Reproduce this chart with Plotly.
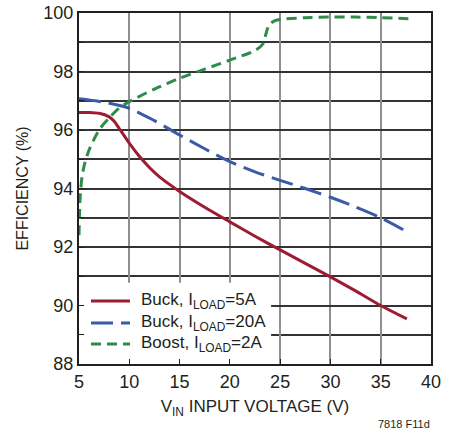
import plotly.graph_objects as go

# Data
buck5_v = [5.0, 6.0, 7.0, 8.0, 8.5, 9.0, 9.5, 10.0, 11.0, 12.0, 13.0, 14.0, 15.0, 17.5, 20.0, 22.5, 25.0, 27.5, 30.0, 32.5, 35.0, 37.6]
buck5_e = [96.6, 96.6, 96.57, 96.45, 96.3, 96.05, 95.8, 95.55, 95.1, 94.72, 94.4, 94.14, 93.9, 93.36, 92.86, 92.37, 91.9, 91.44, 90.98, 90.5, 90.0, 89.54]

buck20_v = [5.0, 7.5, 10.0, 12.5, 15.0, 17.5, 20.0, 22.5, 25.0, 27.5, 30.0, 32.5, 35.0, 37.6]
buck20_e = [97.07, 96.95, 96.74, 96.32, 95.83, 95.36, 94.92, 94.57, 94.28, 94.0, 93.7, 93.37, 93.0, 92.52]

boost_v = [5.0, 5.1, 5.3, 5.6, 6.1, 7.1, 8.1, 9.0, 10.0, 12.5, 15.0, 17.5, 20.0, 22.5, 23.3, 23.6, 23.9, 24.5, 25.0, 27.5, 30.0, 32.5, 35.0, 38.0]
boost_e = [92.4, 93.6, 94.4, 94.9, 95.4, 96.05, 96.45, 96.75, 96.97, 97.4, 97.77, 98.08, 98.39, 98.72, 98.95, 99.3, 99.6, 99.74, 99.78, 99.84, 99.86, 99.86, 99.84, 99.8]

series_names = ["Buck, I<sub>LOAD</sub>=5A", "Buck, I<sub>LOAD</sub>=20A", "Boost, I<sub>LOAD</sub>=2A"]

x_ticks = [5, 10, 15, 20, 25, 30, 35, 40]
y_ticks = [88, 90, 92, 94, 96, 98, 100]

FONT = "Liberation Sans, Arial, sans-serif"
TXT = "#231F20"
COLORS = ["#9E1B32", "#3B5BA9", "#2E8B4A"]
DASHES = ["solid", "22px,8px", "10px,6px"]

fig = go.Figure()
for vx, ey, name, col, dash in zip([buck5_v, buck20_v, boost_v], [buck5_e, buck20_e, boost_e],
                                   series_names, COLORS, DASHES):
    fig.add_trace(go.Scatter(x=vx, y=ey, mode="lines", name=name, showlegend=False, hoverinfo="skip",
                             line=dict(color=col, width=3, dash=dash, shape="spline", smoothing=0.8)))

# white patch behind legend (above gridlines, below traces/ticks)
fig.add_shape(type="rect", xref="x", yref="y", x0=5, x1=24.1, y0=88, y1=90.78,
              fillcolor="white", line=dict(width=0), layer="between")

# manual legend (paper coords: plot area 352 x 351 px)
PW, PH = 352.0, 351.0
row_y = [301, 323, 344]  # pixel rows in figure
for name, col, dash, ry in zip(series_names, COLORS, DASHES, row_y):
    yp = (364 - ry) / PH
    fig.add_shape(type="line", xref="paper", yref="paper",
                  x0=(91 - 79) / PW, x1=(130 - 79) / PW, y0=yp, y1=yp,
                  line=dict(color=col, width=3, dash=dash))
    fig.add_annotation(text=name, xref="paper", yref="paper", x=(139 - 79) / PW, y=yp,
                       xanchor="left", yanchor="middle", showarrow=False,
                       font=dict(family=FONT, size=17, color=TXT))

fig.add_annotation(text="7818 F11d", xref="paper", yref="paper", x=(432 - 79) / PW, y=(364 - 424) / PH,
                   xanchor="right", yanchor="middle", showarrow=False,
                   font=dict(family=FONT, size=11, color=TXT))

fig.update_layout(
    width=457, height=433,
    margin=dict(l=79, r=26, t=13, b=69),
    paper_bgcolor="white", plot_bgcolor="white",
    font=dict(family=FONT, color=TXT),
    showlegend=False,
    xaxis=dict(range=[5, 40], tickvals=x_ticks, ticks="inside", ticklen=5, tickcolor=TXT,
               showgrid=True, gridcolor="#8F8F8F", gridwidth=2,
               showline=True, linecolor=TXT, linewidth=2, mirror=True,
               tickfont=dict(size=18, family=FONT, color=TXT),
               title=dict(text="V<sub>IN</sub> INPUT VOLTAGE (V)", font=dict(size=17, family=FONT, color=TXT), standoff=10),
               zeroline=False, automargin=False),
    yaxis=dict(range=[88, 100], tickvals=y_ticks, ticks="inside", ticklen=5, tickcolor=TXT,
               showgrid=True, gridcolor="#333333", gridwidth=1.5,
               minor=dict(dtick=1, tick0=88, showgrid=True, gridcolor="#333333", gridwidth=1.5, ticks="inside", ticklen=5, tickcolor=TXT),
               showline=True, linecolor=TXT, linewidth=2, mirror=True,
               tickfont=dict(size=18, family=FONT, color=TXT),
               title=dict(text="EFFICIENCY (%)", font=dict(size=16, family=FONT, color=TXT), standoff=11),
               zeroline=False, automargin=False),
)

fig.write_html("out.html", config={"displayModeBar": False},
               post_script="document.body.style.margin='0px';document.body.style.padding='0px';")
